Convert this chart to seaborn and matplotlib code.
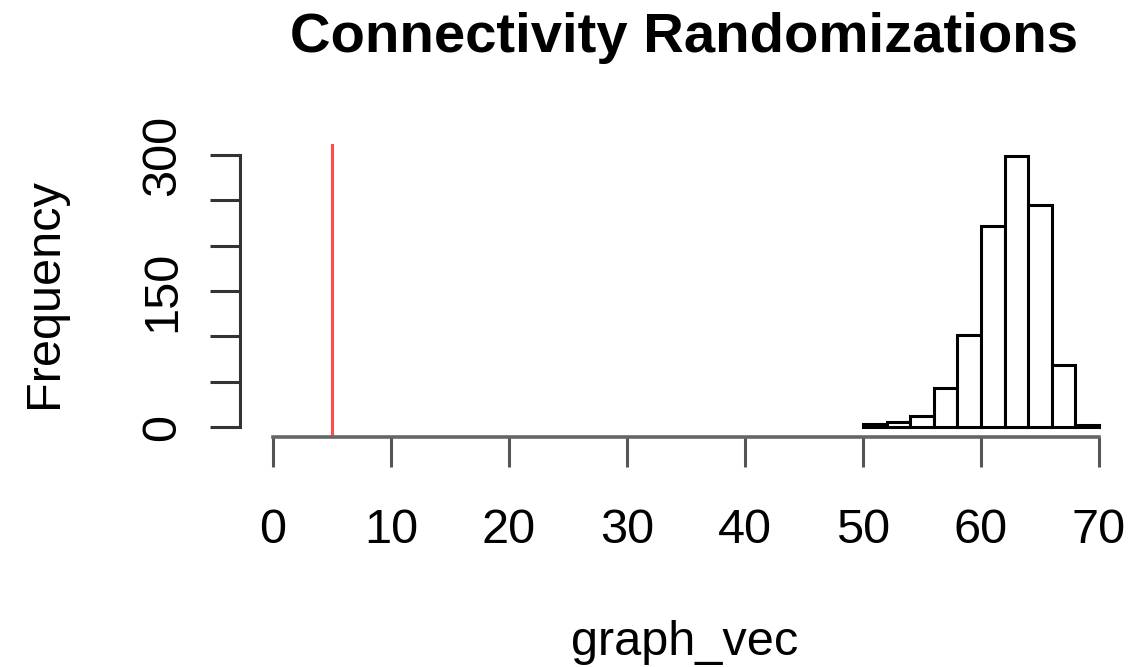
import numpy as np
import pandas as pd
import matplotlib
matplotlib.use("Agg")
import matplotlib.pyplot as plt
import seaborn as sns

# histogram of the randomized graph statistic (bin width 2, 50..70)
bin_edges = [50, 52, 54, 56, 58, 60, 62, 64, 66, 68, 70]
bin_counts = [3, 6, 12, 43, 101, 222, 299, 245, 68, 2]
observed_value = 5

x_ticks = [0, 10, 20, 30, 40, 50, 60, 70]
y_ticks = [0, 50, 100, 150, 200, 250, 300]
y_tick_labels = ["0", "", "", "150", "", "", "300"]

title = "Connectivity Randomizations"
x_label = "graph_vec"
y_label = "Frequency"

sns.set_style("white")
plt.rcParams["font.family"] = ["Liberation Sans", "DejaVu Sans"]
plt.rcParams["text.color"] = "black"

W, H = 1135, 667
fig = plt.figure(figsize=(W / 100, H / 100), dpi=100)
# plot region in pixels: left 240, right 1132, top 144, bottom 437
ax = fig.add_axes([240 / W, 1 - 437 / H, (1132 - 240) / W, (437 - 144) / H])

centers = [(a + b) / 2 for a, b in zip(bin_edges[:-1], bin_edges[1:])]
df = pd.DataFrame({"x": centers, "n": bin_counts})
sns.histplot(data=df, x="x", weights="n", bins=bin_edges, ax=ax,
             color="white", alpha=1.0, edgecolor="black", linewidth=2.2)

ax.axvline(observed_value, color="#ff4d4d", linewidth=2.2)

ax.set_xlim(-2.8, 72.8)
ax.set_ylim(-11.0, 312.1)

for s in ["top", "right"]:
    ax.spines[s].set_visible(False)
ax.spines["left"].set_bounds(0, 300)
ax.spines["bottom"].set_bounds(0, 70)
ax.spines["left"].set_color("#333333")
ax.spines["bottom"].set_color("#666666")
ax.spines["left"].set_linewidth(2.2)
ax.spines["bottom"].set_linewidth(2.6)

ax.set_xticks(x_ticks)
ax.set_xticklabels([str(t) for t in x_ticks], va="baseline")
ax.set_yticks(y_ticks)
ax.set_yticklabels(y_tick_labels, rotation=90, rotation_mode="anchor",
                   ha="center", va="baseline")

ax.tick_params(axis="both", direction="out", length=21.6, width=2.2,
               bottom=True, left=True,
               colors="#333333", labelcolor="black", labelsize=35)
ax.tick_params(axis="x", pad=55, color="#555555")
ax.tick_params(axis="y", pad=25)

ax.set_xlabel("")
ax.set_ylabel("")

fig.text(684 / W, 1 - 52 / H, title, ha="center", va="baseline",
         fontsize=40.5, fontweight="bold", color="black")
fig.text(685 / W, 1 - 655 / H, x_label, ha="center", va="baseline",
         fontsize=35, color="black")
fig.text(57 / W, 1 - 293 / H, y_label, rotation=90, rotation_mode="anchor",
         ha="center", va="baseline", fontsize=35, color="black")

fig.savefig("out.png", dpi=100, facecolor="white")
